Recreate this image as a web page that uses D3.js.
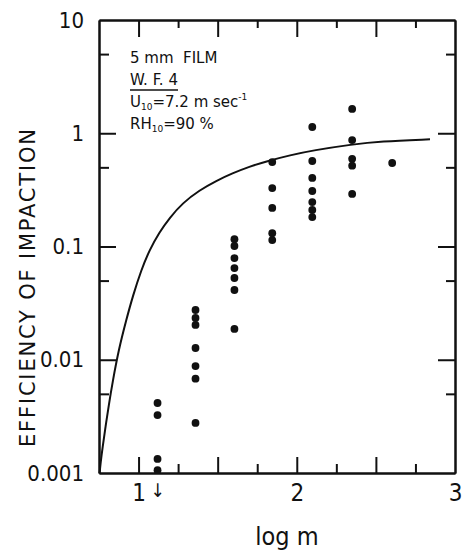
<!DOCTYPE html>
<html>
<head>
<meta charset="utf-8">
<script src="https://cdn.jsdelivr.net/npm/d3@7"></script>
<style>
  body { margin: 0; background: #fff; }
  svg { display: block; }
  .lbl { font-family: "DejaVu Sans Condensed", "Liberation Sans Narrow", "Liberation Sans", sans-serif; fill: #111; }
  .wide { font-family: "DejaVu Sans", "Liberation Sans", sans-serif; fill: #111; }
</style>
</head>
<body>
<div id="chart"></div>
<script>
// theoretical curve (log m, efficiency)
var curveLogM = [0.754, 0.760, 0.773, 0.792, 0.811, 0.836, 0.874, 0.922, 0.964, 1.017, 1.069, 1.132, 1.196, 1.278,
                 1.385, 1.492, 1.593, 1.700, 1.808, 1.959, 2.104, 2.350, 2.527, 2.842];
var curveEff  = [0.001, 0.00123, 0.0017, 0.0026, 0.0039, 0.00636, 0.0122, 0.0224, 0.0366, 0.062, 0.0931, 0.134, 0.179, 0.242,
                 0.314, 0.381, 0.443, 0.507, 0.565, 0.641, 0.707, 0.797, 0.849, 0.884];

// measured points
var pointLogM = [1.12, 1.12, 1.12, 1.12,
                 1.36, 1.36, 1.36, 1.36, 1.36, 1.36, 1.36,
                 1.606, 1.606, 1.606, 1.606, 1.606, 1.606, 1.606,
                 1.845, 1.845, 1.845, 1.845, 1.845,
                 2.098, 2.098, 2.098, 2.098, 2.098, 2.098, 2.098,
                 2.35, 2.35, 2.35, 2.35, 2.35,
                 2.603];
var pointEff  = [0.00415, 0.00325, 0.00133, 0.00106,
                 0.0275, 0.0234, 0.0203, 0.0127, 0.0088, 0.0068, 0.00277,
                 0.116, 0.101, 0.079, 0.0645, 0.0527, 0.0413, 0.0187,
                 0.557, 0.328, 0.219, 0.131, 0.114,
                 1.135, 0.569, 0.403, 0.309, 0.247, 0.210, 0.182,
                 1.64, 0.871, 0.595, 0.517, 0.291,
                 0.546];

var xMajor = [1, 1.5, 2, 2.5];
var xMinor = [1.25, 1.75, 2.25, 2.75];
var xLabels = [1, 2, 3];
var yMajor = [0.001, 0.01, 0.1, 1, 10];
var yMinor = [0.005, 0.05, 0.5, 5];
var yLabels = ['0.001', '0.01', '0.1', '1', '10'];

var width = 464, height = 556;
var margin = {top: 20, right: 9, bottom: 83, left: 99};

var svg = d3.select('#chart').append('svg').attr('width', width).attr('height', height);

var x = d3.scaleLinear().domain([0.75, 3]).range([margin.left, width - margin.right]);
var y = d3.scaleLog().domain([0.001, 10]).range([height - margin.bottom, margin.top]);

function styleAxis(g) {
  g.selectAll('path.domain').attr('stroke', '#111').attr('stroke-width', 2);
  g.selectAll('.tick line').attr('stroke', '#111').attr('stroke-width', 2);
}

// bottom axis
svg.append('g').attr('transform', 'translate(0,' + y(0.001) + ')')
  .call(d3.axisBottom(x).tickValues(xMajor).tickSizeInner(-16).tickSizeOuter(0).tickFormat(''))
  .call(styleAxis);
svg.append('g').attr('transform', 'translate(0,' + y(0.001) + ')')
  .call(d3.axisBottom(x).tickValues(xMinor).tickSizeInner(-9).tickSizeOuter(0).tickFormat(''))
  .call(styleAxis);
svg.append('g').attr('transform', 'translate(0,' + y(0.001) + ')')
  .call(d3.axisBottom(x).tickValues(xLabels).tickSize(0).tickPadding(11).tickFormat(d3.format('d')))
  .call(function (g) {
    g.select('.domain').remove();
    g.selectAll('text').attr('class', 'lbl').style('font-size', '24px');
  });

// top axis
svg.append('g').attr('transform', 'translate(0,' + margin.top + ')')
  .call(d3.axisTop(x).tickValues(xMajor).tickSizeInner(-17).tickSizeOuter(0).tickFormat(''))
  .call(styleAxis);
svg.append('g').attr('transform', 'translate(0,' + margin.top + ')')
  .call(d3.axisTop(x).tickValues(xMinor).tickSizeInner(-8).tickSizeOuter(0).tickFormat(''))
  .call(styleAxis);

// left axis
svg.append('g').attr('transform', 'translate(' + margin.left + ',0)')
  .call(d3.axisLeft(y).tickValues(yMajor).tickSizeInner(-17).tickSizeOuter(0).tickPadding(15)
    .tickFormat(function (d, i) { return yLabels[i]; }))
  .call(styleAxis)
  .call(function (g) {
    g.selectAll('text').attr('class', 'lbl').style('font-size', '22px');
    g.selectAll('.tick').filter(function (d) { return d === 10 || d === 0.001; }).select('line').remove();
  });
svg.append('g').attr('transform', 'translate(' + margin.left + ',0)')
  .call(d3.axisLeft(y).tickValues(yMinor).tickSizeInner(-10).tickSizeOuter(0).tickFormat(''))
  .call(styleAxis);

// right axis
svg.append('g').attr('transform', 'translate(' + (width - margin.right) + ',0)')
  .call(d3.axisRight(y).tickValues(yMajor.slice(1, 4)).tickSizeInner(-17).tickSizeOuter(0).tickFormat(''))
  .call(styleAxis);
svg.append('g').attr('transform', 'translate(' + (width - margin.right) + ',0)')
  .call(d3.axisRight(y).tickValues(yMinor).tickSizeInner(-9).tickSizeOuter(0).tickFormat(''))
  .call(styleAxis);

// curve (basis smoothing evens out the hand-read points)
var line = d3.line().curve(d3.curveBasis)
  .x(function (d, i) { return x(curveLogM[i]); })
  .y(function (d, i) { return y(curveEff[i]); });
svg.append('path').datum(curveLogM).attr('d', line)
  .attr('fill', 'none').attr('stroke', '#111').attr('stroke-width', 2);

// points
svg.append('g').selectAll('circle').data(pointLogM).enter().append('circle')
  .attr('cx', function (d) { return x(d); })
  .attr('cy', function (d, i) { return y(pointEff[i]); })
  .attr('r', 3.9).attr('fill', '#111');

// arrow under the lowest column
svg.append('text').attr('class', 'lbl').attr('x', x(pointLogM[0])).attr('y', 497)
  .attr('text-anchor', 'middle').style('font-size', '19px').text('↓');

// axis titles
svg.append('text').attr('class', 'lbl').attr('x', 287).attr('y', 545)
  .attr('text-anchor', 'middle').style('font-size', '25px').text('log m');
svg.append('text').attr('class', 'wide')
  .attr('transform', 'translate(35,288) rotate(-90)')
  .attr('text-anchor', 'middle').style('font-size', '21px')
  .attr('textLength', 318).attr('lengthAdjust', 'spacing')
  .text('EFFICIENCY OF IMPACTION');

// annotation block
var note = svg.append('g').attr('class', 'wide').style('font-size', '15px');
note.append('text').attr('x', 130).attr('y', 63).attr('xml:space', 'preserve').text('5 mm  FILM');
note.append('text').attr('x', 130).attr('y', 85).text('W. F. 4');
note.append('line').attr('x1', 130).attr('x2', 178).attr('y1', 90).attr('y2', 90)
  .attr('stroke', '#111').attr('stroke-width', 1.5);
var u = note.append('text').attr('x', 130).attr('y', 107);
u.append('tspan').text('U');
u.append('tspan').attr('dy', 3).style('font-size', '9px').text('10');
u.append('tspan').attr('dy', -3).text('=7.2 m sec');
u.append('tspan').attr('dy', -7).style('font-size', '9px').text('-1');
var rh = note.append('text').attr('x', 130).attr('y', 129);
rh.append('tspan').text('RH');
rh.append('tspan').attr('dy', 3).style('font-size', '9px').text('10');
rh.append('tspan').attr('dy', -3).text('=90 %');
</script>
</body>
</html>
